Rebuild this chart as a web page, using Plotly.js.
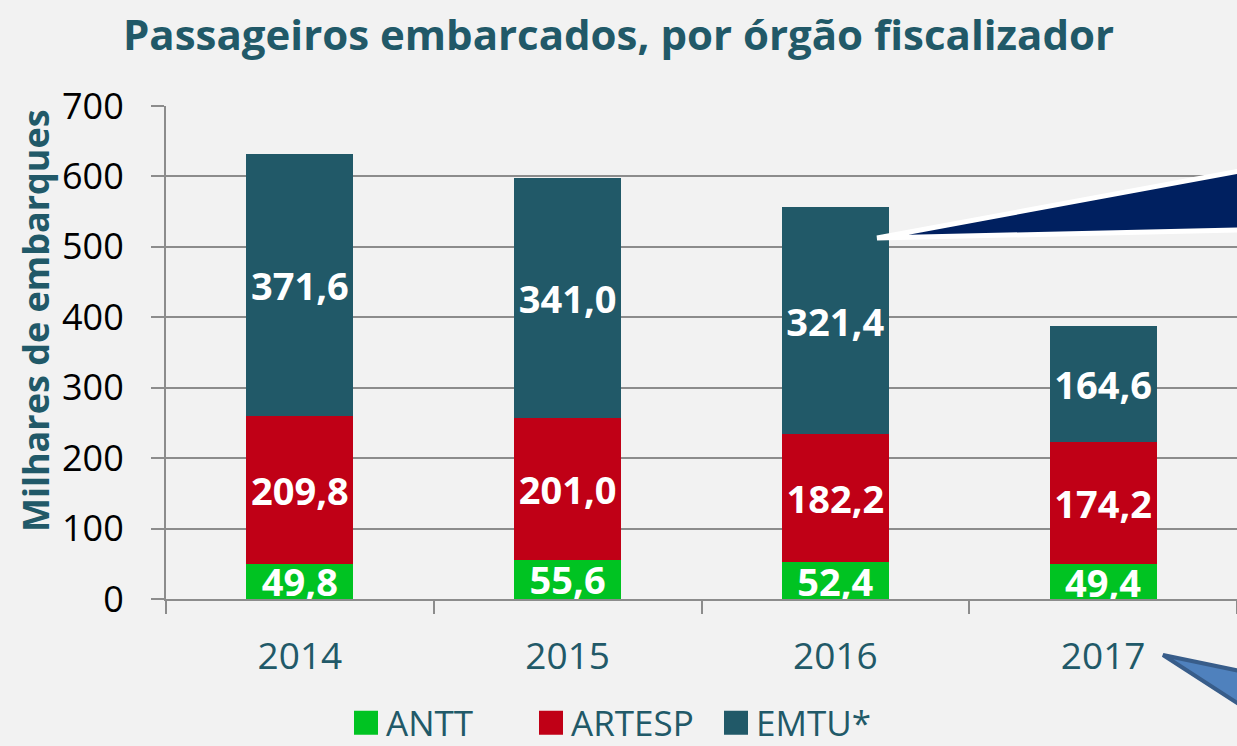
<!DOCTYPE html>
<html>
<head>
<meta charset="utf-8">
<script src="https://cdn.plot.ly/plotly-3.0.1.min.js"></script>
<style>html,body{margin:0;padding:0;background:#f2f2f2;}#chart{width:1237px;height:746px;}</style>
</head>
<body>
<div id="chart"></div>
<script>
const years = ['2014', '2015', '2016', '2017'];
const antt = [49.8, 55.6, 52.4, 49.4];
const artesp = [209.8, 201.0, 182.2, 174.2];
const emtu = [371.6, 341.0, 321.4, 164.6];
const seriesNames = ['ANTT', 'ARTESP', 'EMTU*'];

const TEAL = '#215968';
const GRID = '#8c8c8c';
const FONT = 'Open Sans, DejaVu Sans, sans-serif';

function barTrace(name, vals, color) {
  return {
    type: 'bar', name: name, x: years, y: vals,
    marker: {color: color},
    width: 0.4,
    texttemplate: '%{y:.1f}',
    textposition: 'inside',
    insidetextanchor: 'middle',
    constraintext: 'none',
    textfont: {family: FONT, size: 38, color: '#ffffff', weight: 700},
    hoverinfo: 'skip'
  };
}

const data = [
  barTrace(seriesNames[0], antt, '#00c322'),
  barTrace(seriesNames[1], artesp, '#c00016'),
  barTrace(seriesNames[2], emtu, '#215968')
];

// plot area in pixels: x 166..1237, y 106..599
const L = 166, R = 1237, T = 106, B = 599;
function px(x) { return (x - L) / (R - L); }
function py(y) { return (B - y) / (B - T); }
function tri(pts) {
  return 'M' + pts.map(p => px(p[0]).toFixed(4) + ',' + py(p[1]).toFixed(4)).join(' L') + ' Z';
}

const layout = {
  width: 1237, height: 746,
  paper_bgcolor: '#f2f2f2', plot_bgcolor: '#f2f2f2',
  margin: {l: L, r: 1237 - R, t: T, b: 746 - B, pad: 0},
  separators: ',.',
  barmode: 'stack',
  showlegend: true,
  title: {
    text: 'Passageiros embarcados, por órgão fiscalizador',
    font: {family: FONT, size: 42, color: TEAL, weight: 700},
    x: 0.5, xanchor: 'center', y: 1 - 35 / 746, yanchor: 'middle'
  },
  xaxis: {
    type: 'category', range: [-0.5, 3.5],
    tickson: 'boundaries', ticks: 'outside', ticklen: 13, tickcolor: GRID, tickwidth: 2,
    showline: true, linecolor: GRID, linewidth: 2,
    showgrid: false,
    tickfont: {family: FONT, size: 37, color: TEAL},
    ticklabelstandoff: 24,
    fixedrange: true
  },
  yaxis: {
    range: [0, 700], dtick: 100,
    showgrid: true, gridcolor: GRID, gridwidth: 2,
    ticks: 'outside', ticklen: 13, tickcolor: GRID, tickwidth: 2,
    showline: true, linecolor: GRID, linewidth: 2,
    zeroline: false,
    tickfont: {family: FONT, size: 36, color: '#000000'},
    ticklabelstandoff: 20,
    automargin: false,
    fixedrange: true
  },
  annotations: [
    {text: 'Milhares de embarques', xref: 'paper', yref: 'paper',
     x: px(35), y: py(321), xanchor: 'center', yanchor: 'middle', textangle: -90,
     showarrow: false, font: {family: FONT, size: 36, color: TEAL, weight: 700}}
  ],
  legend: {
    orientation: 'h', xref: 'container', yref: 'container',
    x: 346 / 1237, xanchor: 'left', y: 1 - 723 / 746, yanchor: 'middle',
    entrywidth: 140, entrywidthmode: 'pixels',
    font: {family: FONT, size: 35, color: TEAL},
    bgcolor: 'rgba(0,0,0,0)', traceorder: 'normal'
  },
  shapes: [
    {type: 'path', xref: 'paper', yref: 'paper', layer: 'above',
     path: tri([[877, 238], [1240, 171], [1240, 230]]),
     fillcolor: '#002060', line: {color: '#ffffff', width: 5}},
    {type: 'path', xref: 'paper', yref: 'paper', layer: 'above',
     path: tri([[1163, 655], [1245, 672], [1245, 708]]),
     fillcolor: '#4f81bd', line: {color: '#385d8a', width: 4}}
  ]
};

Plotly.newPlot('chart', data, layout, {displayModeBar: false, staticPlot: true}).then(function () {
  document.querySelectorAll('.legend .legendpoints path').forEach(function (p) {
    p.setAttribute('d', 'M12,12H-12V-12H12Z');
  });
  document.querySelectorAll('.legend [clip-path]').forEach(function (e) {
    e.removeAttribute('clip-path');
  });
});
</script>
</body>
</html>
